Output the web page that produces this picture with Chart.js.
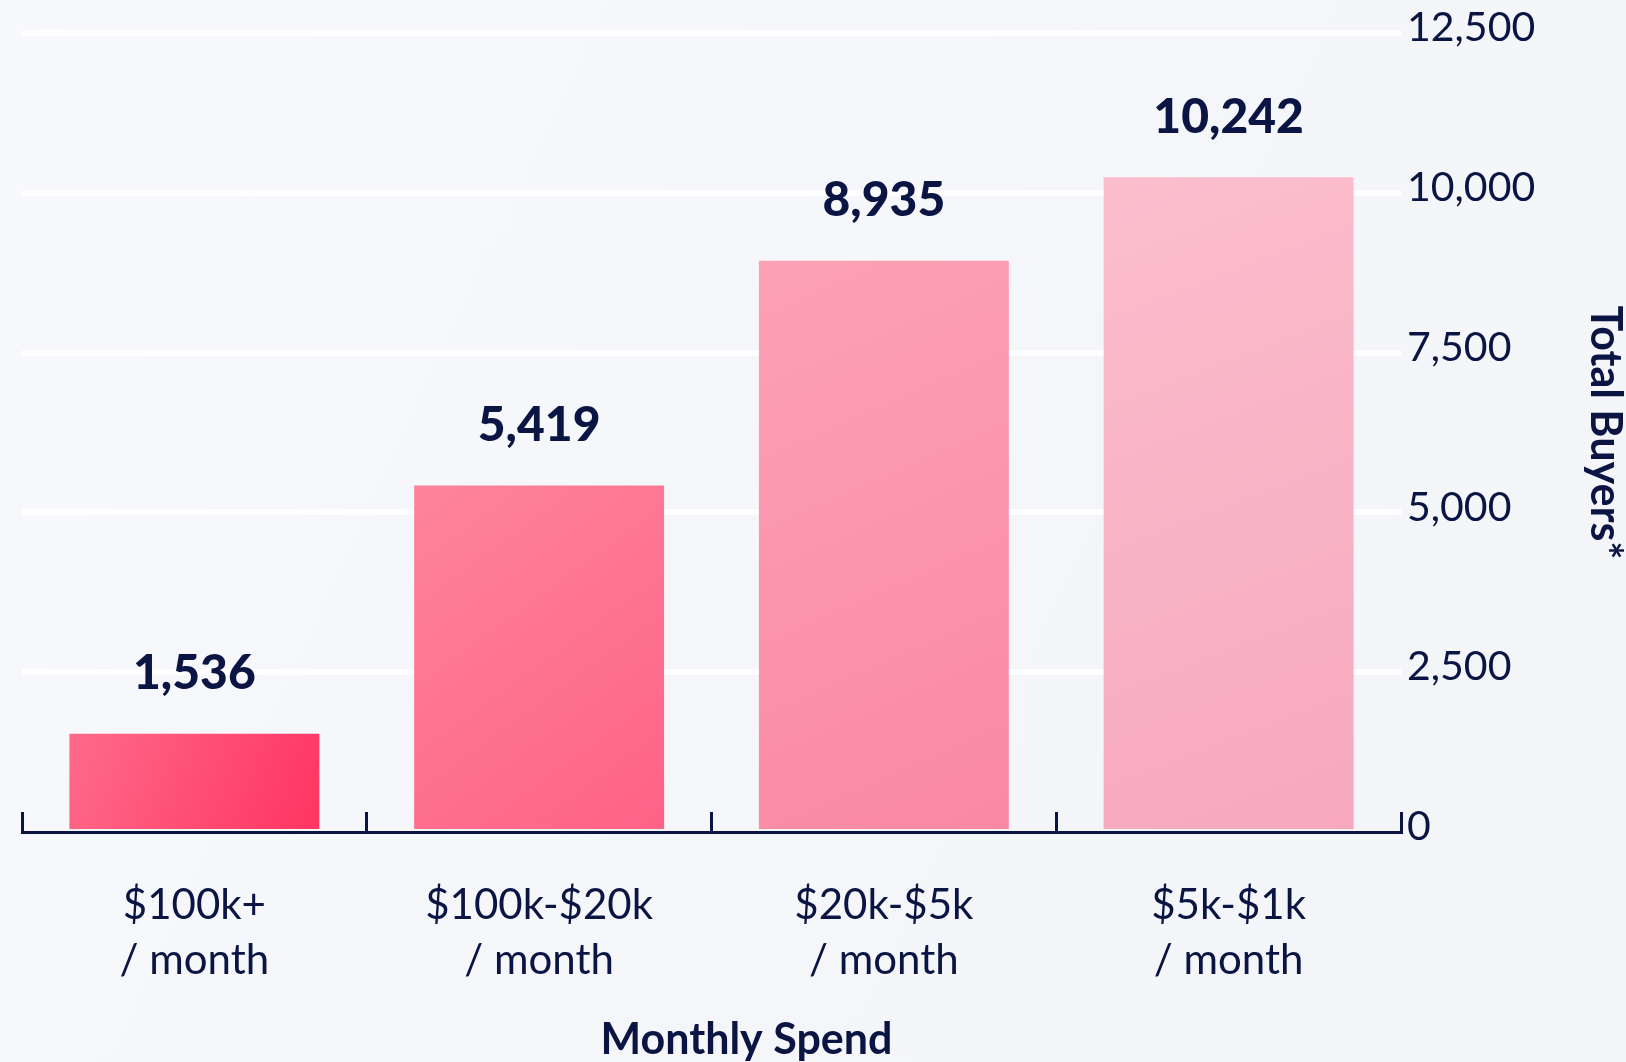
<!DOCTYPE html>
<html>
<head>
<meta charset="utf-8">
<title>Total Buyers by Monthly Spend</title>
<script src="https://cdn.jsdelivr.net/npm/chart.js@4.4.1/dist/chart.umd.min.js"></script>
<style>
    html, body { margin: 0; padding: 0; }
    body {
        width: 1626px;
        height: 1062px;
        overflow: hidden;
        background: linear-gradient(115deg, #f8f9fd 0%, #f5f6fa 55%, #f3f5f9 100%);
    }
    #wrap { position: relative; width: 1626px; height: 1062px; }
</style>
</head>
<body>
<div id="wrap"><canvas id="buyersChart"></canvas></div>
<script>
// data
const categories = [
    ['$100k+', '/ month'],
    ['$100k-$20k', '/ month'],
    ['$20k-$5k', '/ month'],
    ['$5k-$1k', '/ month']
];
const buyers = [1536, 5419, 8935, 10242];
const yTicks = [0, 2500, 5000, 7500, 10000, 12500];

// styles
const navy = '#0a1543';
const barTopColors = ['#fe6a8b', '#fe849d', '#fca1b6', '#fbbecd'];
const barBottomColors = ['#ff3461', '#fe6287', '#fa88a4', '#f7a8be'];

Chart.defaults.font.family = 'Lato, "Noto Sans", sans-serif';

// diagonal gradient per bar (top-left -> bottom-right)
function barGradient(ctx) {
    const i = ctx.dataIndex;
    const el = ctx.element;
    if (!el || !isFinite(el.x) || !isFinite(el.width) || !isFinite(el.base)) return barBottomColors[i];
    const g = ctx.chart.ctx.createLinearGradient(el.x - el.width / 2, el.y, el.x + el.width / 2, el.base);
    g.addColorStop(0, barTopColors[i]);
    g.addColorStop(1, barBottomColors[i]);
    return g;
}

// value above each bar
const valueLabels = {
    id: 'valueLabels',
    afterDatasetsDraw(chart) {
        const ctx = chart.ctx;
        const meta = chart.getDatasetMeta(0);
        ctx.save();
        ctx.font = '900 48px Lato, "Noto Sans", sans-serif';
        ctx.fillStyle = navy;
        ctx.textAlign = 'center';
        ctx.textBaseline = 'middle';
        meta.data.forEach((bar, i) => {
            ctx.fillText(buyers[i].toLocaleString('en-US'), bar.x, bar.y - 60);
        });
        ctx.restore();
    }
};

// x axis title, a bit right of the scale centre like the original
const xTitle = {
    id: 'xTitle',
    afterDraw(chart) {
        const ctx = chart.ctx;
        const x = chart.scales.x;
        ctx.save();
        ctx.font = 'bold 43px Lato, "Noto Sans", sans-serif';
        ctx.fillStyle = navy;
        ctx.textAlign = 'center';
        ctx.textBaseline = 'middle';
        ctx.fillText('Monthly Spend', (x.left + x.right) / 2 + 35, x.bottom - 22);
        ctx.restore();
    }
};

const chart = new Chart(document.getElementById('buyersChart').getContext('2d'), {
    type: 'bar',
    data: {
        labels: categories,
        datasets: [{
            label: 'Total Buyers',
            data: buyers,
            backgroundColor: barGradient,
            borderWidth: 0,
            categoryPercentage: 1,
            barPercentage: 0.725
        }]
    },
    options: {
        responsive: true,
        maintainAspectRatio: false,
        animation: false,
        layout: {padding: {left: 22, top: 33, right: 0, bottom: 0}},
        plugins: {legend: {display: false}, tooltip: {enabled: false}},
        scales: {
            x: {
                grid: {
                    display: true,
                    offset: true,
                    drawOnChartArea: false,
                    drawTicks: true,
                    tickLength: -20,
                    tickWidth: 3,
                    tickColor: navy
                },
                border: {display: true, color: navy, width: 3},
                ticks: {
                    color: navy,
                    font: {size: 42, lineHeight: 1.31},
                    padding: 66,
                    maxRotation: 0,
                    autoSkip: false
                },
                afterFit(scale) { scale.height = 230; }
            },
            y: {
                position: 'right',
                min: yTicks[0],
                max: yTicks[yTicks.length - 1],
                ticks: {
                    stepSize: yTicks[1] - yTicks[0],
                    color: navy,
                    font: {size: 41},
                    padding: 6,
                    labelOffset: -5
                },
                grid: {
                    color: c => (c.tick && c.tick.value === 0) ? 'rgba(255,255,255,0)' : '#ffffff',
                    lineWidth: 6,
                    drawTicks: false
                },
                border: {display: false},
                title: {
                    display: true,
                    text: 'Total Buyers*',
                    color: navy,
                    font: {size: 43, weight: 'bold', lineHeight: 1},
                    padding: 0
                },
                afterFit(scale) { scale.width = 225; }
            }
        }
    },
    plugins: [valueLabels, xTitle]
});
// second pass so the gradients can use the bar geometry
chart.update();
</script>
</body>
</html>
